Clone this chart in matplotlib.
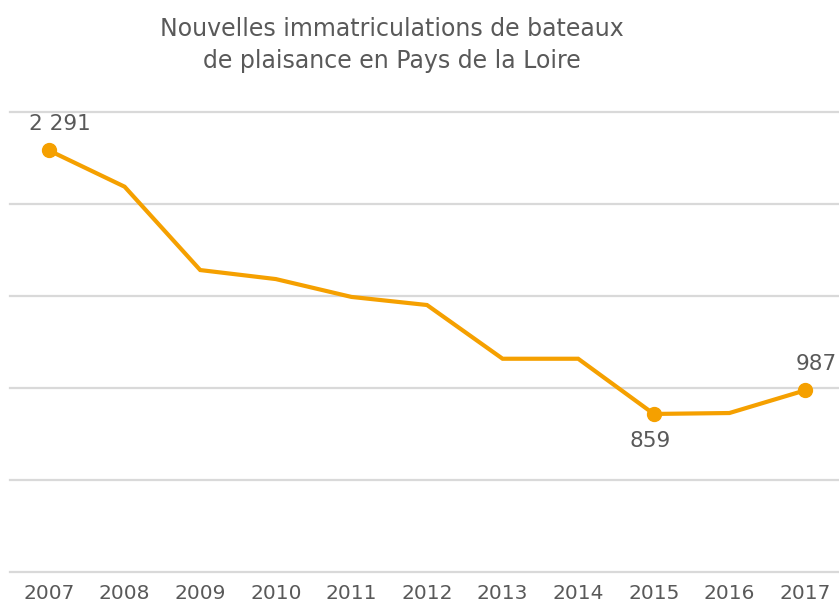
import matplotlib.pyplot as plt

# donnees
annees = [2007, 2008, 2009, 2010, 2011, 2012, 2013, 2014, 2015, 2016, 2017]
immatriculations = [2291, 2094, 1641, 1592, 1495, 1451, 1159, 1159, 859, 864, 987]
annees_marquees = [2007, 2015, 2017]
grille = [0, 500, 1000, 1500, 2000, 2500]

orange = '#F5A000'
gris_texte = '#595959'

fig = plt.figure(figsize=(8.39, 6.05), dpi=100)
ax = fig.add_axes([10/839, 33/605, 829/839, 460/605])

ax.plot(annees, immatriculations, color=orange, lw=3, solid_joinstyle='miter', zorder=3)

# points + etiquettes
for a in annees_marquees:
    v = immatriculations[annees.index(a)]
    ax.plot(a, v, 'o', color=orange, ms=10, zorder=4, clip_on=False)
    if a == 2015:
        off = (-4, -27)
    else:
        off = (11, 26)
    lab = f"{v:,}".replace(",", " ")
    ax.annotate(lab, (a, v), xytext=off, textcoords='offset pixels',
                ha='center', va='center', fontsize=15.5, color=gris_texte)

ax.set_xlim(2006.484, 2017.45)
ax.set_ylim(0, 2500)
ax.set_yticks(grille)
ax.set_xticks(annees)
ax.set_xticklabels([str(a) for a in annees])
ax.yaxis.grid(True, color='#D9D9D9', lw=1.6)
for gl in ax.get_ygridlines():
    gl.set_clip_on(False)
ax.set_axisbelow(True)
ax.tick_params(axis='y', left=False, labelleft=False)
ax.tick_params(axis='x', bottom=False, labelsize=14.5, labelcolor=gris_texte, pad=5)
for s in ax.spines.values():
    s.set_visible(False)

fig.text(392/839, 1 - 45/605, "Nouvelles immatriculations de bateaux\nde plaisance en Pays de la Loire",
         ha='center', va='center', fontsize=17, color=gris_texte, linespacing=1.45)

fig.savefig('out.png', dpi=100)
